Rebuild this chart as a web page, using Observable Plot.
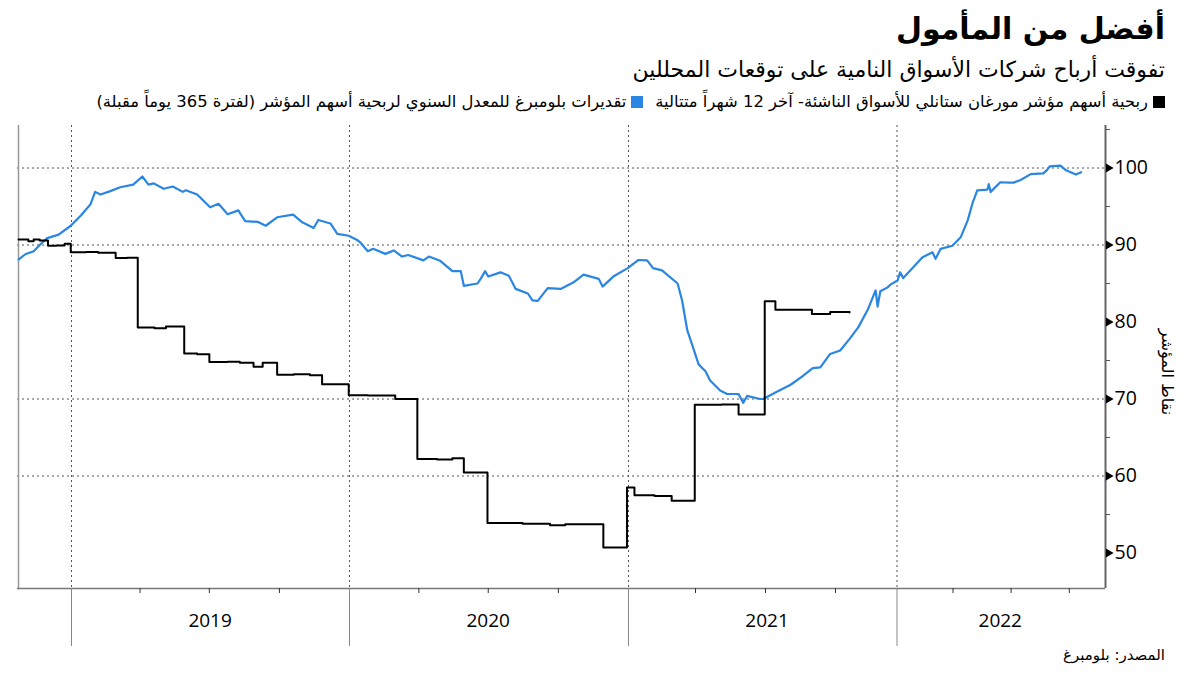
<!DOCTYPE html>
<html><head><meta charset="utf-8">
<script src="https://cdn.jsdelivr.net/npm/d3@7"></script>
<script src="https://cdn.jsdelivr.net/npm/@observablehq/plot@0.6"></script>
<style>
body{margin:0;background:#fff;width:1200px;height:675px;overflow:hidden;position:relative;font-family:"DejaVu Sans",sans-serif;color:#000}
.t{position:absolute;right:35px;direction:rtl;white-space:nowrap}
#title{top:11px;font-size:30px;font-weight:bold}
#subtitle{top:57px;font-size:22px}
#legend{top:92px;font-size:16.4px}
#legend .sw{display:inline-block;width:12px;height:12px;margin-left:5px;vertical-align:-1px}
#legend .item{margin-left:12px}
#source{top:646px;font-size:15px}
#ytitle{position:absolute;left:1167px;top:372px;transform:translate(-50%,-50%) rotate(90deg);font-size:16px;white-space:nowrap;direction:rtl}
#chart{position:absolute;left:0;top:118px}
</style></head>
<body>
<div id="title" class="t">أفضل من المأمول</div>
<div id="subtitle" class="t">تفوقت أرباح شركات الأسواق النامية على توقعات المحللين</div>
<div id="legend" class="t"></div>
<div id="chart"></div>
<div id="ytitle"></div>
<div id="source" class="t"></div>
<script>
// ---- data ----
const seriesNames = [
  "ربحية أسهم مؤشر مورغان ستانلي للأسواق الناشئة- آخر 12 شهراً متتالية",
  "تقديرات بلومبرغ للمعدل السنوي لربحية أسهم المؤشر (لفترة 365 يوماً مقبلة)"
];
const seriesColors = ["#000000", "#2a86e2"];

const blackDates = ["2018-10-23","2018-11-05","2018-11-12","2018-11-20","2018-11-27","2018-12-01","2018-12-12","2018-12-23","2018-12-31",
  "2019-01-20","2019-02-05","2019-02-28","2019-03-15","2019-03-29","2019-04-20","2019-05-05","2019-05-29","2019-06-15","2019-07-01",
  "2019-07-25","2019-08-10","2019-08-28","2019-09-09","2019-09-28","2019-10-20","2019-11-10","2019-11-26","2019-12-31",
  "2020-01-25","2020-03-01","2020-03-30","2020-04-25","2020-05-15","2020-05-30","2020-06-30","2020-08-15","2020-09-20","2020-10-10",
  "2020-11-29","2020-12-30","2021-01-09","2021-02-05","2021-02-28","2021-03-31","2021-05-05","2021-05-27","2021-06-30","2021-07-14",
  "2021-08-31","2021-09-24","2021-10-22"];
const blackValues = [90.7,90.5,90.7,90.6,90.6,89.9,89.95,90.15,89.05,
  89.1,89.0,88.3,88.35,79.3,79.2,79.4,75.9,75.8,74.8,
  74.85,74.7,74.2,74.7,73.15,73.2,73.1,71.9,70.5,
  70.45,70.0,62.2,62.15,62.3,60.45,53.9,53.8,53.6,53.75,
  50.7,58.5,57.5,57.4,56.8,69.25,69.3,68.0,82.7,81.6,
  81.05,81.3,81.25];

const blueDates = ["2018-10-23","2018-11-01","2018-11-12","2018-11-21","2018-11-30","2018-12-15","2018-12-31",
  "2019-01-13","2019-01-26","2019-02-01","2019-02-08","2019-02-21","2019-03-06","2019-03-23","2019-04-04","2019-04-12","2019-04-19",
  "2019-05-02","2019-05-14","2019-05-27","2019-05-31","2019-06-15","2019-07-02","2019-07-13","2019-07-25","2019-08-08","2019-08-17",
  "2019-09-03","2019-09-13","2019-09-28","2019-10-19","2019-10-31","2019-11-15","2019-11-21","2019-12-07","2019-12-16","2019-12-31",
  "2020-01-11","2020-01-15","2020-01-25","2020-02-01","2020-02-17","2020-02-28","2020-03-10","2020-03-18","2020-04-07","2020-04-14",
  "2020-04-29","2020-05-15","2020-05-26","2020-05-30","2020-06-17","2020-06-21","2020-06-27","2020-07-01","2020-07-17","2020-07-28",
  "2020-08-06","2020-08-22","2020-08-28","2020-09-04","2020-09-17","2020-10-04","2020-10-21","2020-11-03","2020-11-23","2020-11-28",
  "2020-12-12","2020-12-31",
  "2021-01-14","2021-01-26","2021-02-03","2021-02-15","2021-03-08","2021-03-14","2021-03-21","2021-03-28","2021-04-05","2021-04-14",
  "2021-04-20","2021-05-03","2021-05-12","2021-05-27","2021-06-02","2021-06-07","2021-06-24","2021-06-28","2021-07-14","2021-08-03",
  "2021-08-18","2021-09-01","2021-09-11","2021-09-24","2021-10-08","2021-10-23","2021-11-04","2021-11-18","2021-11-30","2021-12-03",
  "2021-12-07","2021-12-18","2021-12-22",
  "2022-01-02","2022-01-06","2022-01-11","2022-01-26","2022-02-11","2022-02-27","2022-03-04","2022-03-12","2022-03-31","2022-04-13",
  "2022-04-24","2022-05-02","2022-05-09","2022-05-25","2022-05-27","2022-05-30","2022-06-14","2022-06-28","2022-07-05","2022-07-16",
  "2022-08-01","2022-08-21","2022-08-27","2022-08-31","2022-09-17","2022-09-25","2022-10-11","2022-10-19"];
const blueValues = [88.1,88.8,89.2,90.1,90.9,91.35,92.5,
  93.8,95.3,96.9,96.55,97.0,97.5,97.85,98.9,97.85,98.0,
  97.3,97.6,96.9,97.1,96.55,94.9,95.35,94.0,94.5,93.1,
  93.0,92.5,93.6,93.95,92.95,92.2,93.25,92.8,91.45,91.2,
  90.65,90.35,89.2,89.5,88.85,89.3,88.5,88.7,88.0,88.5,
  87.95,86.6,86.6,84.7,85.0,85.6,86.6,85.9,86.45,86.0,
  84.3,83.7,82.8,82.75,84.4,84.3,85.15,86.15,85.6,84.6,
  85.9,87.0,
  88.05,88.0,87.0,86.7,85.0,82.8,78.9,76.9,74.5,73.6,
  72.4,71.1,70.65,70.65,69.5,70.4,70.0,70.0,70.85,71.85,
  72.9,74.0,74.1,75.85,76.3,77.9,79.3,81.55,84.1,82.0,
  84.0,84.5,84.85,
  85.4,86.45,85.7,87.0,88.4,89.05,88.2,89.5,89.9,91.0,
  93.2,95.55,97.1,97.2,97.9,96.9,98.15,98.1,98.1,98.45,
  99.2,99.3,99.75,100.2,100.3,99.75,99.15,99.45];

const yearLabels = ["2019","2020","2021","2022"];
const yearLabelDates = ["2019-07-02","2020-07-01","2021-07-03","2022-06-14"];
const yearStarts = ["2019-01-01","2020-01-01","2021-01-01","2022-01-01"];
const quarterTicks = ["2019-04-01","2019-07-01","2019-10-01","2020-04-01","2020-07-01","2020-10-01",
  "2021-04-01","2021-07-01","2021-10-01","2022-04-01","2022-07-01","2022-10-01"];
const yMajorTicks = [50,60,70,80,90,100];
const yMinorTicks = [55,65,75,85,95,105];
const yGrid = [60,70,90,100];
const yTitle = "نقاط المؤشر";
const sourceText = "المصدر: بلومبرغ";

// ---- scales (piecewise time axis as in the original) ----
const xBreaks = ["2018-10-23","2019-01-01","2020-01-01","2021-01-01","2021-04-01","2021-07-01","2021-10-01",
  "2022-01-01","2022-04-01","2022-07-01","2022-10-01","2022-11-25"];
const xRange = [18,71,349,628,695,765,835,896.5,952.5,1010.6,1068.8,1105];
const yDomain = [45.39, 105.52];

const P = s => new Date(s + "T00:00:00Z");
const black = blackDates.map((d,i) => ({date: P(d), value: blackValues[i]}));
const blue = blueDates.map((d,i) => ({date: P(d), value: blueValues[i]}));

document.getElementById("ytitle").textContent = yTitle;
document.getElementById("source").textContent = sourceText;

// legend
const leg = document.getElementById("legend");
seriesNames.forEach((n,i) => {
  const s = document.createElement("span"); s.className = "item";
  s.innerHTML = `<span class="sw" style="background:${seriesColors[i]}"></span>${n}`;
  leg.appendChild(s);
});

const chart = Plot.plot({
  width: 1200, height: 557,
  marginTop: 7, marginBottom: 87, marginLeft: 17, marginRight: 95,
  x: {type: "utc", domain: xBreaks.map(P), range: xRange, axis: null},
  y: {domain: yDomain, axis: null},
  style: {background: "transparent", fontFamily: "'Open Sans', sans-serif", color: "#000"},
  marks: [
    Plot.ruleY(yGrid, {stroke: "#555", strokeDasharray: "2,3", strokeWidth: 1}),
    Plot.ruleX(yearStarts.map(P), {stroke: "#555", strokeDasharray: "2,3", strokeWidth: 1}),
    Plot.ruleX([P(xBreaks[0])], {stroke: "#999", strokeWidth: 1.5}),
    Plot.ruleY([yDomain[0]], {stroke: "#777", strokeWidth: 1.5}),
    Plot.ruleX([P(xBreaks[xBreaks.length-1])], {stroke: "#666", strokeWidth: 2}),
    Plot.axisX(quarterTicks.map(P), {tickSize: 5, tickFormat: () => "", stroke: "#333", label: null}),
    Plot.axisX(yearStarts.map(P), {tickSize: 58, tickFormat: () => "", stroke: "#888", label: null}),
    Plot.text(yearLabels, {x: (d,i) => P(yearLabelDates[i]), frameAnchor: "bottom", dy: 38, fontSize: 19, fill: "#000"}),
    Plot.axisY(yMinorTicks, {anchor: "right", tickSize: 4, tickFormat: () => "", stroke: "#555", label: null}),
    Plot.axisY(yMajorTicks, {anchor: "right", tickSize: 0, tickPadding: 9, fontSize: 19.5, fill: "#000", tickFormat: d => String(d), label: null}),
    Plot.dot(yMajorTicks, {y: d => d, frameAnchor: "right", symbol: "triangle", rotate: 90, r: 3.3, fill: "#000", stroke: null, dx: 3}),
    Plot.line(blue, {x: "date", y: "value", stroke: seriesColors[1], strokeWidth: 2.2}),
    Plot.line(black, {x: "date", y: "value", curve: "step-after", stroke: seriesColors[0], strokeWidth: 2})
  ]
});
document.getElementById("chart").appendChild(chart);
</script>
</body></html>
